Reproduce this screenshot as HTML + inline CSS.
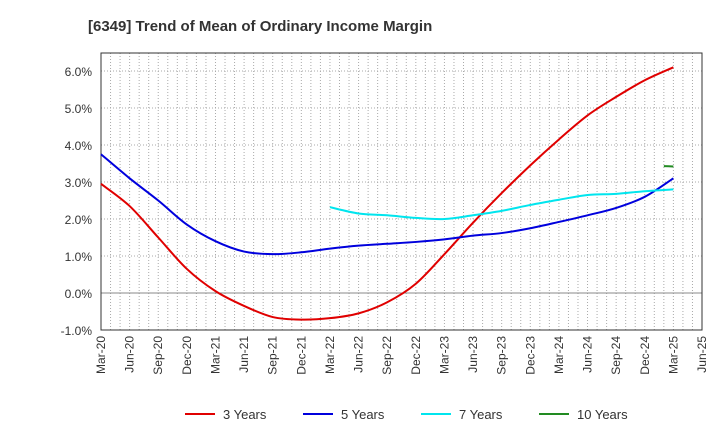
<!DOCTYPE html>
<html><head><meta charset="utf-8"><style>body{margin:0;background:#fff}svg{font-family:"Liberation Sans",sans-serif}</style></head>
<body>
<svg id="c" width="720" height="440"></svg>
<script>
const xLabels=["Mar-20","Jun-20","Sep-20","Dec-20","Mar-21","Jun-21","Sep-21","Dec-21","Mar-22","Jun-22","Sep-22","Dec-22","Mar-23","Jun-23","Sep-23","Dec-23","Mar-24","Jun-24","Sep-24","Dec-24","Mar-25","Jun-25"];
const yTicks=[-1,0,1,2,3,4,5,6];
const s3=[2.95,2.35,1.5,0.65,0.05,-0.35,-0.65,-0.72,-0.68,-0.55,-0.25,0.25,1.05,1.9,2.7,3.45,4.15,4.8,5.3,5.75,6.1];
const s5=[3.75,3.1,2.5,1.85,1.4,1.12,1.05,1.1,1.2,1.28,1.33,1.38,1.45,1.55,1.62,1.75,1.92,2.1,2.3,2.6,3.1];
const s7=[2.32,2.15,2.1,2.03,2.0,2.1,2.22,2.38,2.52,2.65,2.68,2.75,2.8];
const s7Start=8;
const s10=[3.43,3.42];
const s10StartMonth=59;
const L=101,R=702,T=53,B=330;
const X=m=>L+m*(R-L)/63;
const Y=v=>293-v*37;
const svg=document.getElementById('c');
const NS='http://www.w3.org/2000/svg';
function mk(t,a,p){const e=document.createElementNS(NS,t);for(const k in a)e.setAttribute(k,a[k]);(p||svg).appendChild(e);return e;}
const t=mk('text',{x:88,y:31,'text-anchor':'start','font-size':15,'font-weight':'bold',fill:'#333'});

t.textContent='[6349]  Trend of Mean of Ordinary Income Margin';
for(let m=1;m<63;m++){const g=mk('line',{x1:X(m),x2:X(m),y1:T,y2:B,stroke:'#aaa','stroke-dasharray':'1,2','stroke-width':1});}
yTicks.forEach(v=>{const g=mk('line',{x1:L,x2:R,y1:Y(v),y2:Y(v),stroke:v==0?'#888':'#aaa','stroke-dasharray':v==0?'':'1,2'});
const l=mk('text',{x:92,y:Y(v)+5,'text-anchor':'end','font-size':12,fill:'#333'});l.textContent=v.toFixed(1)+'%';});
xLabels.forEach((s,i)=>{const x=X(i*3);const l=mk('text',{x:0,y:0,transform:`translate(${x+4},${B+6}) rotate(-90)`,'text-anchor':'end','font-size':12,fill:'#333'});l.textContent=s;});
const fr=mk('rect',{x:L,y:T,width:R-L,height:B-T,fill:'none',stroke:'#333'});
function path(pts){let d=`M${pts[0][0]},${pts[0][1]}`;for(let i=0;i<pts.length-1;i++){const p0=pts[i-1]||pts[i],p1=pts[i],p2=pts[i+1],p3=pts[i+2]||p2;d+=` C${p1[0]+(p2[0]-p0[0])/6},${p1[1]+(p2[1]-p0[1])/6} ${p2[0]-(p3[0]-p1[0])/6},${p2[1]-(p3[1]-p1[1])/6} ${p2[0]},${p2[1]}`;}return d;}
function series(vals,startM,step,color,name){const pts=vals.map((v,i)=>[X(startM+i*step),Y(v)]);const p=mk('path',{d:path(pts),fill:'none',stroke:color,'stroke-width':2});}
series(s3,0,3,'#e00000','line-3-years');
series(s5,0,3,'#0000dd','line-5-years');
series(s7,s7Start*3,3,'#00e5ee','line-7-years');
series(s10,s10StartMonth,1,'#228b22','line-10-years');
const leg=[['3 Years','#e00000',185],['5 Years','#0000dd',303],['7 Years','#00e5ee',421],['10 Years','#228b22',539]];
leg.forEach(([n,c,x])=>{const g=mk('g',{});mk('line',{x1:x,x2:x+30,y1:414,y2:414,stroke:c,'stroke-width':2},g);const tx=mk('text',{x:x+38,y:419,'font-size':13,fill:'#333'},g);tx.textContent=n;});
</script>
</body></html>
